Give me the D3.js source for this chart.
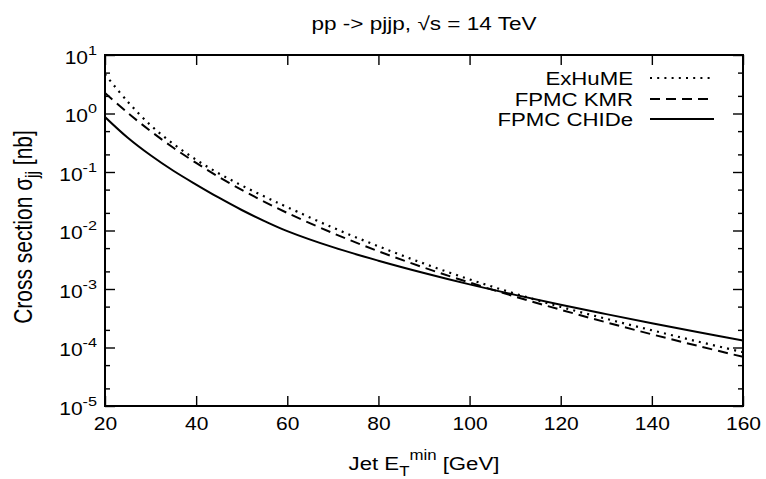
<!DOCTYPE html>
<html>
<head>
<meta charset="utf-8">
<script src="https://cdn.jsdelivr.net/npm/d3@7"></script>
<style>
  html, body { margin: 0; padding: 0; background: #fff; }
  svg { display: block; font-family: "Liberation Sans", Arial, sans-serif; }
</style>
</head>
<body>
<svg id="chart" width="766" height="479"></svg>
<script>
// ---- data ----
const energies = [20, 25, 30, 35, 40, 45, 50, 55, 60, 70, 80, 90, 100, 110, 120, 130, 140, 150, 160];
const exhume = [4.68, 1.585, 0.631, 0.302, 0.162, 0.0944, 0.0589, 0.038, 0.0251, 0.0112, 0.00537, 0.00272, 0.00146, 0.000832, 0.000495, 0.000309, 0.000197, 0.000127, 0.0000832];
const fpmcKMR = [2.24, 1.023, 0.501, 0.26, 0.143, 0.0822, 0.0495, 0.0309, 0.01995, 0.00902, 0.00442, 0.00232, 0.00129, 0.000741, 0.000442, 0.000269, 0.000168, 0.000107, 0.0000692];
const fpmcCHIDe = [0.871, 0.385, 0.193, 0.105, 0.061, 0.0363, 0.0224, 0.0145, 0.00977, 0.00519, 0.00305, 0.00188, 0.0012, 0.000794, 0.000537, 0.000372, 0.00026, 0.000184, 0.000132];
const seriesNames = ["ExHuME", "FPMC KMR", "FPMC CHIDe"];
const xTicks = [20, 40, 60, 80, 100, 120, 140, 160];
const yExponents = [-5, -4, -3, -2, -1, 0, 1];
const yMinorMantissas = [2, 5];

const titleText = "pp -> pjjp, \u221As = 14 TeV";

// ---- layout ----
const L = 105, R = 743, T = 55, B = 406;
const SX = 1.2; // horizontal text stretch seen in the reference
const svg = d3.select("#chart");
const x = d3.scaleLinear().domain([20, 160]).range([L, R]);
const y = d3.scaleLog().domain([1e-5, 10]).range([B, T]);

const styles = [
  { dash: "2,5.2", width: 2.2 },
  { dash: "10,6", width: 2 },
  { dash: null, width: 2 }
];
const seriesData = [exhume, fpmcKMR, fpmcCHIDe];

function stretchedText(parent, px, py, anchor, size) {
  return parent.append("g")
    .attr("transform", `translate(${px},${py}) scale(${SX},1)`)
    .append("text")
    .attr("x", 0).attr("y", 0)
    .attr("text-anchor", anchor)
    .attr("font-size", size)
    .attr("fill", "#000");
}

// clip
svg.append("clipPath").attr("id", "clip")
  .append("rect").attr("x", L).attr("y", T).attr("width", R - L).attr("height", B - T);

// curves
const line = d3.line()
  .x((d, i) => x(energies[i]))
  .y(d => y(d))
  .curve(d3.curveCatmullRom.alpha(0.5));

seriesData.forEach((vals, k) => {
  svg.append("path")
    .attr("clip-path", "url(#clip)")
    .attr("d", line(vals))
    .attr("fill", "none")
    .attr("stroke", "#000")
    .attr("stroke-width", styles[k].width)
    .attr("stroke-dasharray", styles[k].dash);
});

// axes (ticks inward, on all sides)
const minorVals = [];
yExponents.forEach(e => { if (e < 1) yMinorMantissas.forEach(m => minorVals.push(m * Math.pow(10, e))); });
const majorVals = yExponents.map(e => Math.pow(10, e));

function styleAxis(g) {
  g.select(".domain").remove();
  g.selectAll("line").attr("stroke", "#000").attr("stroke-width", 1.4);
}

// bottom
const gx = svg.append("g").attr("transform", `translate(0,${B})`)
  .call(d3.axisBottom(x).tickValues(xTicks).tickSizeInner(-10).tickSizeOuter(0).tickFormat(""));
styleAxis(gx);
gx.selectAll(".tick").each(function (d) {
  stretchedText(d3.select(this), 0, 24, "middle", 17.5).text(d3.format("d")(d));
});
// top
const gxt = svg.append("g").attr("transform", `translate(0,${T})`)
  .call(d3.axisTop(x).tickValues(xTicks).tickSizeInner(-10).tickSizeOuter(0).tickFormat(""));
styleAxis(gxt);

// left major
const gy = svg.append("g").attr("transform", `translate(${L},0)`)
  .call(d3.axisLeft(y).tickValues(majorVals).tickSizeInner(-10).tickSizeOuter(0).tickFormat(""));
styleAxis(gy);
gy.selectAll(".tick").each(function (d) {
  const e = Math.round(Math.log10(d));
  const t = stretchedText(d3.select(this), -8, 8, "end", 17.5);
  t.append("tspan").text("10");
  t.append("tspan").attr("font-size", 13.5).attr("dy", -9).text(String(e));
});
const gym = svg.append("g").attr("transform", `translate(${L},0)`)
  .call(d3.axisLeft(y).tickValues(minorVals).tickSizeInner(-5).tickSizeOuter(0).tickFormat(""));
styleAxis(gym);
// right
const gyr = svg.append("g").attr("transform", `translate(${R},0)`)
  .call(d3.axisRight(y).tickValues(majorVals).tickSizeInner(-10).tickSizeOuter(0).tickFormat(""));
styleAxis(gyr);
const gyrm = svg.append("g").attr("transform", `translate(${R},0)`)
  .call(d3.axisRight(y).tickValues(minorVals).tickSizeInner(-5).tickSizeOuter(0).tickFormat(""));
styleAxis(gyrm);

// frame
svg.append("rect").attr("x", L).attr("y", T).attr("width", R - L).attr("height", B - T)
  .attr("fill", "none").attr("stroke", "#000").attr("stroke-width", 2);

// title
stretchedText(svg, (L + R) / 2, 30, "middle", 18.8).text(titleText);

// x label
const xl = stretchedText(svg, (L + R) / 2, 470, "middle", 18.5);
xl.append("tspan").text("Jet E");
xl.append("tspan").attr("font-size", 14).attr("dy", 6).text("T");
xl.append("tspan").attr("font-size", 14).attr("dy", -16).text("min");
xl.append("tspan").attr("dy", 10).text(" [GeV]");

// y label (rotated; glyph heights stretched horizontally like the reference)
const yl = svg.append("g")
  .attr("transform", `translate(32,227) scale(${SX},1) rotate(-90)`)
  .append("text").attr("text-anchor", "middle").attr("font-size", 21).attr("fill", "#000");
yl.append("tspan").text("Cross section \u03C3");
yl.append("tspan").attr("font-size", 15.5).attr("dy", 5).text("jj");
yl.append("tspan").attr("dy", -5).text(" [nb]");

// legend
const legY = [78, 99, 119];
seriesNames.forEach((name, k) => {
  stretchedText(svg, 633, legY[k] + 7, "end", 18.5).text(name);
  svg.append("line").attr("x1", 650).attr("x2", 714).attr("y1", legY[k]).attr("y2", legY[k])
    .attr("stroke", "#000").attr("stroke-width", styles[k].width)
    .attr("stroke-dasharray", styles[k].dash);
});
</script>
</body>
</html>
